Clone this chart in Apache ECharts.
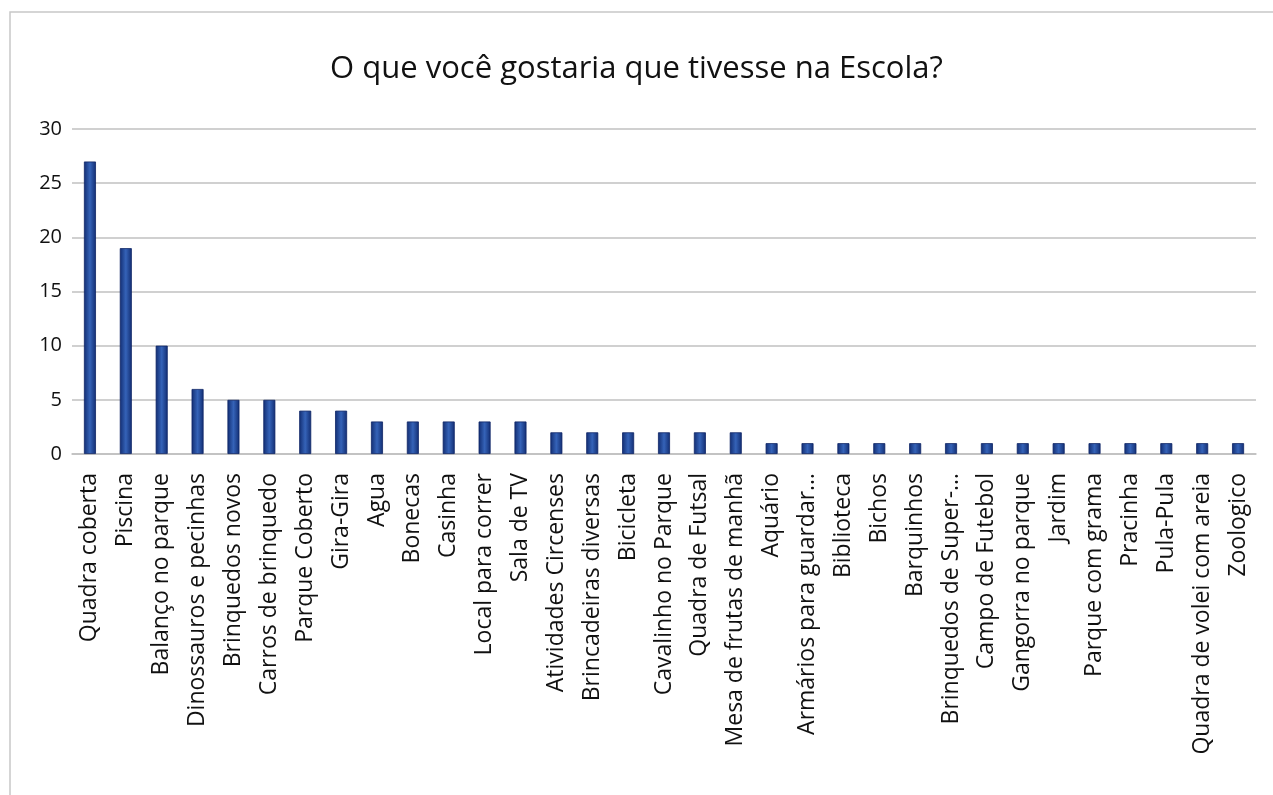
<!DOCTYPE html>
<html>
<head>
<meta charset="utf-8">
<script src="https://cdn.jsdelivr.net/npm/echarts@6/dist/echarts.min.js"></script>
<style>
  html, body { margin: 0; padding: 0; background: #fff; }
  #chart { width: 1273px; height: 795px; }
</style>
</head>
<body>
<div id="chart"></div>
<script>
const titleText = 'O que você gostaria que tivesse na Escola?';

const categories = [
  'Quadra coberta', 'Piscina', 'Balanço no parque', 'Dinossauros e pecinhas',
  'Brinquedos novos', 'Carros de brinquedo', 'Parque Coberto', 'Gira-Gira',
  'Agua', 'Bonecas', 'Casinha', 'Local para correr', 'Sala de TV',
  'Atividades Circenses', 'Brincadeiras diversas', 'Bicicleta',
  'Cavalinho no Parque', 'Quadra de Futsal', 'Mesa de frutas de manhã',
  'Aquário', 'Armários para guardar…', 'Biblioteca', 'Bichos', 'Barquinhos',
  'Brinquedos de Super-…', 'Campo de Futebol', 'Gangorra no parque', 'Jardim',
  'Parque com grama', 'Pracinha', 'Pula-Pula', 'Quadra de volei com areia',
  'Zoologico'
];

const counts = [
  27, 19, 10, 6, 5, 5, 4, 4, 3, 3, 3, 3, 3,
  2, 2, 2, 2, 2, 2,
  1, 1, 1, 1, 1, 1, 1, 1, 1, 1, 1, 1, 1, 1
];

const yTicks = { min: 0, max: 30, interval: 5 };

const chart = echarts.init(document.getElementById('chart'));

const barFill = new echarts.graphic.LinearGradient(0, 0, 1, 0, [
  { offset: 0, color: '#122d72' },
  { offset: 0.5, color: '#3563b8' },
  { offset: 1, color: '#122d72' }
]);

chart.setOption({
  backgroundColor: '#fff',
  animation: false,
  textStyle: { fontFamily: 'Open Sans' },
  title: {
    text: titleText,
    left: 'center',
    top: 49,
    textStyle: { fontSize: 31, fontWeight: 'normal', color: '#111', fontFamily: 'Open Sans' }
  },
  graphic: [{
    type: 'rect',
    shape: { x: 10, y: 12, width: 1400, height: 900 },
    style: { fill: 'none', stroke: '#c8c8c8', lineWidth: 1.5 },
    silent: true
  }],
  grid: { left: 72, right: 17, top: 129, bottom: 341, containLabel: false },
  xAxis: {
    type: 'category',
    data: categories,
    axisLine: { lineStyle: { color: '#bfbfbf', width: 1.5 } },
    axisTick: { show: false },
    axisLabel: {
      rotate: 90,
      interval: 0,
      margin: 19,
      fontSize: 23,
      color: '#111',
      fontFamily: 'Open Sans'
    }
  },
  yAxis: {
    type: 'value',
    min: yTicks.min,
    max: yTicks.max,
    interval: yTicks.interval,
    axisLine: { show: false },
    axisTick: { show: false },
    splitLine: { lineStyle: { color: '#c0c0c0', width: 1.5 } },
    axisLabel: { fontSize: 20, color: '#111', margin: 10, fontFamily: 'Open Sans' }
  },
  series: [{
    type: 'bar',
    data: counts,
    barWidth: 12,
    itemStyle: { color: barFill, borderColor: '#0e2566', borderWidth: 0.8 }
  }]
});
</script>
</body>
</html>
